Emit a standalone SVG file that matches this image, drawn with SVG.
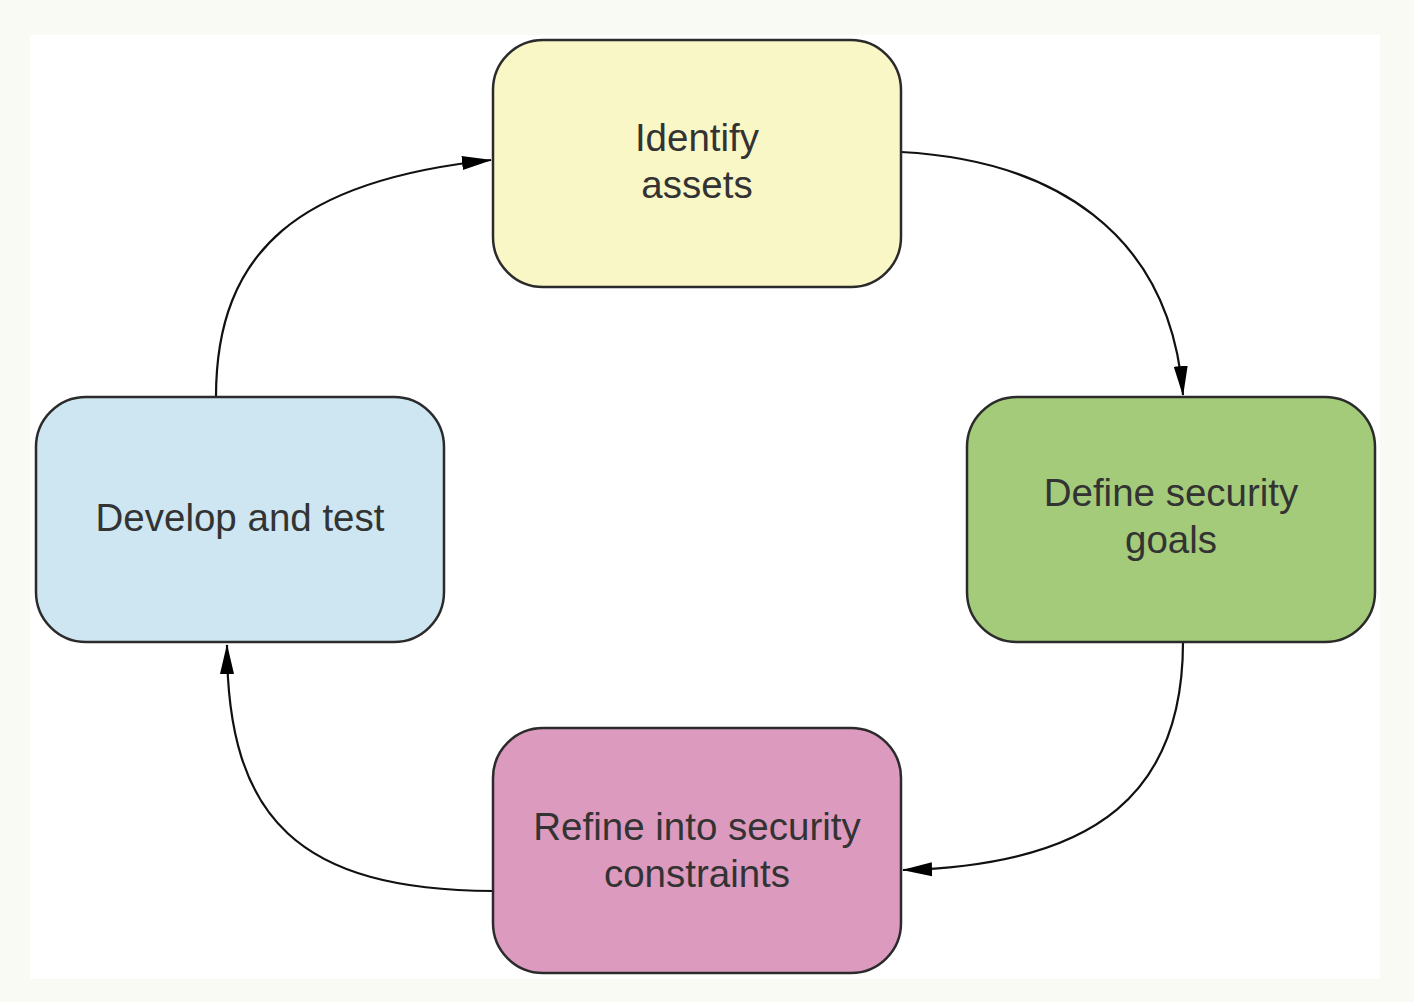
<svg xmlns="http://www.w3.org/2000/svg" width="1414" height="1002" viewBox="0 0 1414 1002">
<defs>
<style>
.box{stroke:#2b2b2b;stroke-width:2.5}
.lbl{font-family:"Liberation Sans",Arial,sans-serif;font-size:38.5px;fill:#333;text-anchor:middle}
.edge{fill:none;stroke:#111;stroke-width:2.2}
</style>
<marker id="ah2" markerWidth="30" markerHeight="16" refX="29" refY="8" orient="auto" markerUnits="userSpaceOnUse" viewBox="0 0 30 16">
<path d="M0,1 L30,8 L0,15 Z" fill="#000"/>
</marker>
</defs>
<rect x="0" y="0" width="1414" height="1002" fill="#fafaf5"/>
<rect x="30" y="35" width="1350" height="944" fill="#ffffff"/>
<g id="connectors">
<path class="edge" d="M901,152 C1050,160 1170,230 1183,395" marker-end="url(#ah2)"/>
<path class="edge" d="M1183,642 C1183,790 1100,865 903,870" marker-end="url(#ah2)"/>
<path class="edge" d="M493,891 C300,890 227,820 227,645" marker-end="url(#ah2)"/>
<path class="edge" d="M216,397 C216,250 300,180 491,160" marker-end="url(#ah2)"/>
</g>
<g id="node-identify">
<rect class="box" x="493" y="40" width="408" height="247" rx="50" fill="#f9f7c6"/>
<text class="lbl" x="697" y="151">Identify</text>
<text class="lbl" x="697" y="198">assets</text>
</g>
<g id="node-define">
<rect class="box" x="967" y="397" width="408" height="245" rx="50" fill="#a3cb7a"/>
<text class="lbl" x="1171" y="506">Define security</text>
<text class="lbl" x="1171" y="553">goals</text>
</g>
<g id="node-refine">
<rect class="box" x="493" y="728" width="408" height="245" rx="50" fill="#dd9abf"/>
<text class="lbl" x="697" y="840">Refine into security</text>
<text class="lbl" x="697" y="887">constraints</text>
</g>
<g id="node-develop">
<rect class="box" x="36" y="397" width="408" height="245" rx="50" fill="#cde6f2"/>
<text class="lbl" x="240" y="531">Develop and test</text>
</g>
</svg>
